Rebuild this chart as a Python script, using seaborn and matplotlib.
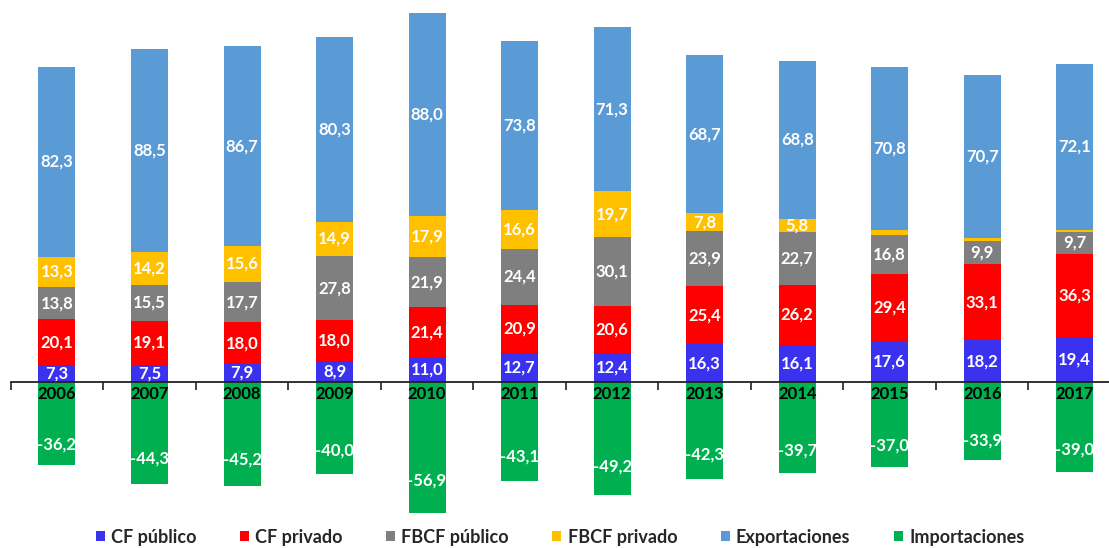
import matplotlib
matplotlib.use("Agg")
import matplotlib.pyplot as plt
import seaborn as sns
import numpy as np
from matplotlib.patches import Patch
from matplotlib.ticker import FixedLocator

years = ["2006", "2007", "2008", "2009", "2010", "2011",
         "2012", "2013", "2014", "2015", "2016", "2017"]
cf_publico = [7.3, 7.5, 7.9, 8.9, 11.0, 12.7, 12.4, 16.3, 16.1, 17.6, 18.2, 19.4]
cf_privado = [20.1, 19.1, 18.0, 18.0, 21.4, 20.9, 20.6, 25.4, 26.2, 29.4, 33.1, 36.3]
fbcf_publico = [13.8, 15.5, 17.7, 27.8, 21.9, 24.4, 30.1, 23.9, 22.7, 16.8, 9.9, 9.7]
fbcf_privado = [13.3, 14.2, 15.6, 14.9, 17.9, 16.6, 19.7, 7.8, 5.8, 2.2, 1.6, 0.7]
exportaciones = [82.3, 88.5, 86.7, 80.3, 88.0, 73.8, 71.3, 68.7, 68.8, 70.8, 70.7, 72.1]
importaciones = [-36.2, -44.3, -45.2, -40.0, -56.9, -43.1, -49.2, -42.3, -39.7, -37.0, -33.9, -39.0]

series_names = ["CF público", "CF privado", "FBCF público", "FBCF privado",
                "Exportaciones", "Importaciones"]
colors = ["#3B32F0", "#FF0000", "#7F7F7F", "#FFC000", "#5B9BD5", "#00B050"]

sns.set_theme(style="white")
plt.rcParams["font.family"] = ["Lato", "DejaVu Sans"]

fig = plt.figure(figsize=(11.09, 5.48), dpi=100)
W, H = 1109, 548
ax = fig.add_axes([10.7 / W, 28 / H, 1110.3 / W, 513 / H])

pos_layers = [cf_publico, cf_privado, fbcf_publico, fbcf_privado, exportaciones]
cums = np.cumsum(np.array(pos_layers), axis=0)

# stacked bars drawn from the total downward
for i in range(len(pos_layers) - 1, -1, -1):
    sns.barplot(x=years, y=cums[i], order=years, color=colors[i], saturation=1,
                width=0.4, linewidth=0, ax=ax)
sns.barplot(x=years, y=importaciones, order=years, color=colors[5], saturation=1,
            width=0.4, linewidth=0, ax=ax)

def fmt(v):
    return f"{v:.1f}".replace(".", ",")

lab_font = dict(color="white", fontweight="bold", fontsize=12,
                ha="center", va="center")
for i, layer in enumerate(pos_layers):
    bottoms = cums[i] - np.array(layer)
    for j, v in enumerate(layer):
        if v >= 3:
            ax.text(j, bottoms[j] + v / 2, fmt(v), **lab_font)
for j, v in enumerate(importaciones):
    ax.text(j, v * 0.75, fmt(v), **lab_font)

ax.set_xlim(-0.5, 11.5)
ax.set_ylim(-60, 163)
ax.set_xlabel("")
ax.set_ylabel("")
ax.set_yticks([])
for s in ["left", "top", "right"]:
    ax.spines[s].set_visible(False)
ax.spines["bottom"].set_position(("data", 0))
ax.spines["bottom"].set_color("#222222")
ax.spines["bottom"].set_linewidth(1.3)
ax.set_axisbelow(False)

ax.set_xticks(range(len(years)))
ax.set_xticklabels(years, fontweight="bold", fontsize=12, color="black")
ax.tick_params(axis="x", which="major", length=0, pad=3)
ax.xaxis.set_minor_locator(FixedLocator(np.arange(-0.5, 12, 1.0)))
ax.tick_params(axis="x", which="minor", length=6, width=1.2, color="#222222",
               direction="out", bottom=True)

handles = [Patch(facecolor=c, edgecolor="none") for c in colors]
fig.legend(handles, series_names, loc="center", bbox_to_anchor=(0.505, 11 / H),
           ncol=6, frameon=False,
           prop={"family": ["Lato", "DejaVu Sans"], "weight": "bold", "size": 13},
           handlelength=0.5, handleheight=0.5, handletextpad=0.35,
           columnspacing=2.4)

fig.savefig("out.png", dpi=100)
